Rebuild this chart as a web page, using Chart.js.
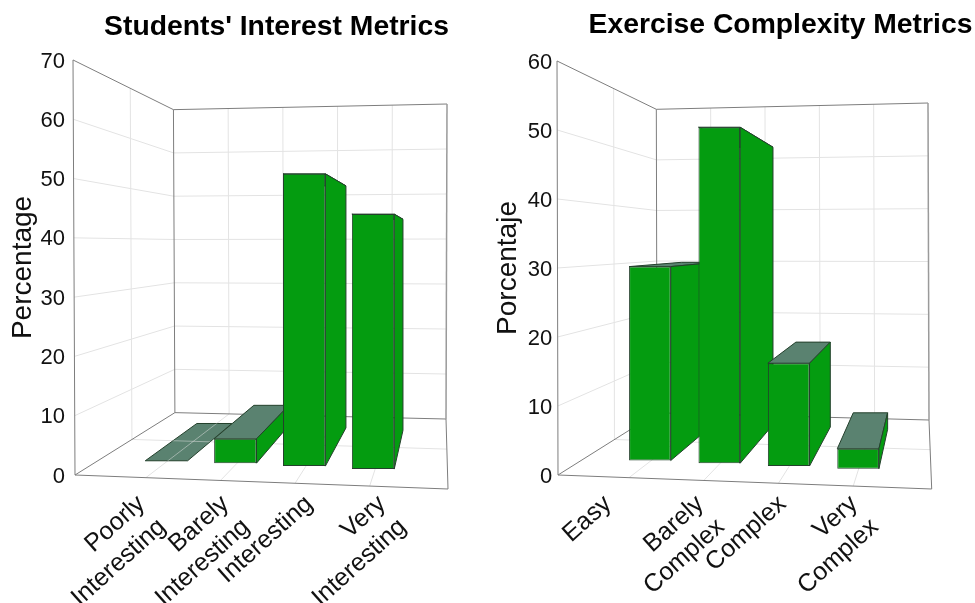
<!DOCTYPE html>
<html>
<head>
<meta charset="utf-8">
<style>
    html, body { margin: 0; padding: 0; background: #fff; overflow: hidden; }
    canvas { position: absolute; top: 0; }
</style>
<script src="https://cdn.jsdelivr.net/npm/chart.js@4"></script>
</head>
<body>
<canvas id="interest" width="490" height="603" style="left:0"></canvas>
<canvas id="complexity" width="485" height="603" style="left:490px"></canvas>
<script>
(function app() {

    // values are read against the axis, top of bar and where it stands on the floor
    const interestLabels = [['Poorly', 'Interesting'], ['Barely', 'Interesting'], 'Interesting', ['Very', 'Interesting']];
    const interestTops = [2.4, 6.1, 50.8, 44.0];
    const interestFloors = [2.4, 2.0, 1.5, 1.0];
    const interestTicksMax = 70;

    const complexityLabels = ['Easy', ['Barely', 'Complex'], 'Complex', ['Very', 'Complex']];
    const complexityTops = [30.2, 50.4, 16.2, 3.8];
    const complexityFloors = [2.1, 1.7, 1.3, 0.9];
    const complexityTicksMax = 60;

    const FONT = "'Liberation Sans', Arial, sans-serif";
    const GREEN = '#049c10';
    const TOP_FACE = '#5a8270';
    const EDGE = '#24402c';
    const WALL = '#7d7d7d';
    const GRID = '#e3e3e3';

    function lerp(a, b, t) {
        return [a[0] + (b[0] - a[0]) * t, a[1] + (b[1] - a[1]) * t];
    }

    function line(ctx, a, b) {
        ctx.beginPath();
        ctx.moveTo(a[0], a[1]);
        ctx.lineTo(b[0], b[1]);
        ctx.stroke();
    }

    function quad(ctx, pts, fill) {
        ctx.beginPath();
        pts.forEach((p, i) => i ? ctx.lineTo(p[0], p[1]) : ctx.moveTo(p[0], p[1]));
        ctx.closePath();
        ctx.fillStyle = fill;
        ctx.fill();
        ctx.strokeStyle = EDGE;
        ctx.lineWidth = 1;
        ctx.stroke();
    }

    // 3d box: walls and floor behind the bars, top and side faces of each bar
    const box3d = {
        id: 'box3d',
        afterLayout(chart, args, opts) {
            chart.titleBlock.left = opts.titleCenter - 240;
            chart.titleBlock.right = opts.titleCenter + 240;
        },
        beforeDatasetsDraw(chart, args, opts) {
            const ctx = chart.ctx;
            const y = chart.scales.y;
            const max = y.max;

            const frontLeft = v => [opts.leftX0 + (opts.leftXMax - opts.leftX0) * v / max, y.getPixelForValue(v)];
            const backLeft = v => lerp(frontLeft(v), opts.vp, opts.wallDepth);
            const backRight = v => lerp(opts.backRightBottom, opts.backRightTop, v / max);
            const floorLeft = d => lerp(frontLeft(0), backLeft(0), d);
            const floorRight = d => lerp(opts.frontRight, backRight(0), d);

            const floorGrid = () => {
                line(ctx, floorLeft(opts.midDepth), floorRight(opts.midDepth));
                opts.backGrid.forEach((u, i) => {
                    line(ctx, lerp(frontLeft(0), opts.frontRight, opts.frontGrid[i]), lerp(backLeft(0), backRight(0), u));
                });
            };

            ctx.save();

            ctx.strokeStyle = GRID;
            ctx.lineWidth = 1;
            y.ticks.slice(1, -1).forEach(t => {
                line(ctx, frontLeft(t.value), backLeft(t.value));
                line(ctx, backLeft(t.value), backRight(t.value));
            });
            line(ctx, lerp(frontLeft(max), backLeft(max), opts.midDepth), lerp(frontLeft(0), backLeft(0), opts.midDepth));
            opts.backGrid.forEach(u => {
                line(ctx, lerp(backLeft(max), backRight(max), u), lerp(backLeft(0), backRight(0), u));
            });
            floorGrid();

            ctx.strokeStyle = WALL;
            line(ctx, frontLeft(max), frontLeft(0));
            line(ctx, frontLeft(max), backLeft(max));
            line(ctx, backLeft(max), backLeft(0));
            line(ctx, backLeft(max), backRight(max));
            line(ctx, frontLeft(0), backLeft(0));
            line(ctx, backLeft(0), backRight(0));
            line(ctx, frontLeft(0), opts.frontRight);
            line(ctx, opts.frontRight, backRight(0));
            ctx.lineWidth = 1.5;
            ctx.strokeStyle = '#9a9a9a';
            line(ctx, backRight(max), backRight(0));

            chart.getDatasetMeta(0).data.forEach(bar => {
                const left = bar.x - bar.width / 2;
                const right = bar.x + bar.width / 2;
                const tl = [left, bar.y];
                const tr = [right, bar.y];
                const br = [right, bar.base];
                const back = p => lerp(p, opts.vp, opts.barDepth);
                const flat = Math.abs(bar.base - bar.y) <= 1;

                quad(ctx, [tl, tr, back(tr), back(tl)], TOP_FACE);
                if (flat) {
                    // a bar of height zero lies on the floor, the grid shows through it
                    ctx.save();
                    ctx.beginPath();
                    ctx.moveTo(tl[0], tl[1]);
                    [tr, back(tr), back(tl)].forEach(p => ctx.lineTo(p[0], p[1]));
                    ctx.closePath();
                    ctx.clip();
                    ctx.strokeStyle = 'rgba(227,227,227,0.5)';
                    ctx.lineWidth = 1;
                    floorGrid();
                    ctx.restore();
                } else {
                    quad(ctx, [tr, br, back(br), back(tr)], GREEN);
                }
            });

            ctx.restore();
        }
    };

    function makeChart(id, labels, tops, floors, ymax, s) {
        return new Chart(document.getElementById(id), {
            type: 'bar',
            plugins: [box3d],
            data: {
                labels: labels,
                datasets: [{
                    data: tops.map((t, i) => [floors[i], t]),
                    backgroundColor: GREEN,
                    borderColor: EDGE,
                    borderWidth: 1,
                    borderSkipped: false,
                    barPercentage: s.barPercentage,
                    categoryPercentage: 1
                }]
            },
            options: {
                responsive: false,
                animation: false,
                layout: { padding: { left: 0, right: s.paddingRight, top: 0, bottom: 0 } },
                plugins: {
                    legend: { display: false },
                    tooltip: { enabled: false },
                    title: {
                        display: true,
                        text: s.title,
                        color: '#000',
                        font: { family: FONT, size: 28.3, weight: 'bold', lineHeight: 1.2 },
                        padding: s.titlePadding
                    },
                    box3d: s.box
                },
                scales: {
                    x: {
                        grid: { display: false },
                        border: { display: false },
                        afterFit: scale => { scale.height = 603 - s.bottom; },
                        afterBuildTicks: scale => {
                            const pixelForTick = scale.getPixelForTick;
                            scale.getPixelForTick = i => pixelForTick.call(scale, i) + s.labelShift[i];
                        },
                        ticks: {
                            color: '#111',
                            autoSkip: false,
                            minRotation: 42,
                            maxRotation: 42,
                            padding: s.xPadding,
                            font: { family: FONT, size: 25, lineHeight: 1.24 }
                        }
                    },
                    y: {
                        min: 0,
                        max: ymax,
                        grid: { display: false, drawTicks: false },
                        border: { display: false },
                        afterFit: scale => {
                            scale.width = s.areaLeft;
                            scale.paddingTop = 0;
                            scale.paddingBottom = 0;
                        },
                        ticks: {
                            stepSize: 10,
                            color: '#111',
                            padding: s.yPadding,
                            labelOffset: 1.5,
                            font: { family: FONT, size: 22 }
                        },
                        title: {
                            display: true,
                            text: s.yTitle,
                            color: '#111',
                            font: { family: FONT, size: 28 },
                            padding: { top: s.yTitleTop, bottom: 0 }
                        }
                    }
                }
            }
        });
    }

    makeChart('interest', interestLabels, interestTops, interestFloors, interestTicksMax, {
        title: "Students' Interest Metrics",
        yTitle: 'Percentage',
        yTitleTop: 6,
        titlePadding: { top: 10.6, bottom: 15.4 },
        areaLeft: 132,
        paddingRight: 82.5,
        bottom: 475,
        barPercentage: 0.615,
        labelShift: [-25, -10, 5, 9],
        xPadding: 6,
        yPadding: 67,
        box: {
            titleCenter: 276.5,
            vp: [445, 244],
            wallDepth: 0.27,
            barDepth: 0.172,
            midDepth: 0.57,
            leftX0: 75,
            leftXMax: 73,
            frontRight: [448, 489],
            backRightTop: [447, 104],
            backRightBottom: [446, 419],
            backGrid: [0.2, 0.4, 0.6, 0.8],
            frontGrid: [0.19, 0.39, 0.59, 0.79]
        }
    });

    makeChart('complexity', complexityLabels, complexityTops, complexityFloors, complexityTicksMax, {
        title: 'Exercise Complexity Metrics',
        yTitle: 'Porcentaje',
        yTitleTop: 1,
        titlePadding: { top: 8, bottom: 19 },
        areaLeft: 125.2,
        paddingRight: 82.2,
        bottom: 475,
        barPercentage: 0.6,
        labelShift: [-42, -19, -6, -4],
        xPadding: 6,
        yPadding: 63,
        box: {
            titleCenter: 290.5,
            vp: [439, 242],
            wallDepth: 0.267,
            barDepth: 0.174,
            midDepth: 0.57,
            leftX0: 68,
            leftXMax: 67,
            frontRight: [441.7, 489],
            backRightTop: [438, 103],
            backRightBottom: [439, 420],
            backGrid: [0.2, 0.4, 0.6, 0.8],
            frontGrid: [0.19, 0.39, 0.59, 0.79]
        }
    });
})();
</script>
</body>
</html>
